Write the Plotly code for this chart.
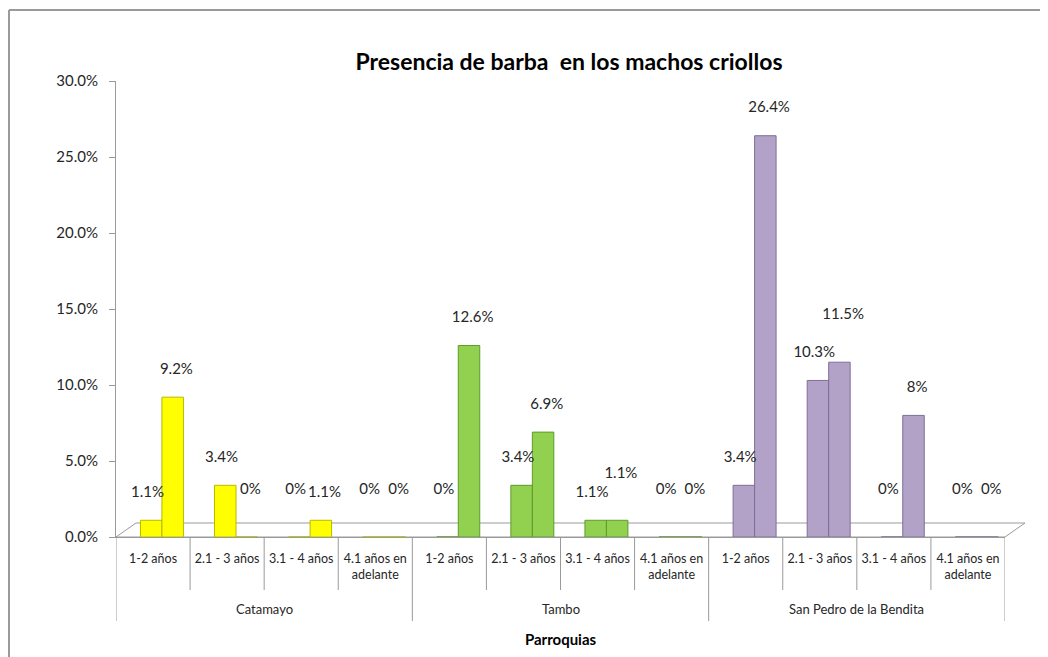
import plotly.graph_objects as go

# ---- data ----
parroquias = ["Catamayo"] * 4 + ["Tambo"] * 4 + ["San Pedro de la Bendita"] * 4
edades = ["1-2 años", "2.1 - 3 años", "3.1 - 4 años", "4.1 años en<br>adelante"] * 3
serie_a = [1.1, 3.4, 0, 0, 0, 3.4, 1.1, 0, 3.4, 10.3, 0, 0]
serie_b = [9.2, 0, 1.1, 0, 12.6, 6.9, 1.1, 0, 26.4, 11.5, 8, 0]
y_ticks = [0, 5, 10, 15, 20, 25, 30]

group_fill = {"Catamayo": "#FFFF00", "Tambo": "#92D050", "San Pedro de la Bendita": "#B3A2C7"}
group_edge = {"Catamayo": "#B8B800", "Tambo": "#5E9A2C", "San Pedro de la Bendita": "#7E6E98"}

fills = [group_fill[p] for p in parroquias]
edges = [group_edge[p] for p in parroquias]
xpos = list(range(len(edades)))

FONT = "Lato, 'Open Sans', sans-serif"
TXT = "#262626"
AX = "#9a9a9a"

BAR_W = 0.29
OFF_A, OFF_B = -0.17, 0.12
SHIFT = 0.05


def lbl(v, extra=0):
    # label raised above the 3D cap (empty lines push the text upward)
    lines = 1 + (1 if v == 0 else 0) + extra
    return f"{v:g}%" + "<br> " * lines


fig = go.Figure()
for vals, off in ((serie_a, OFF_A), (serie_b, OFF_B)):
    fig.add_trace(go.Bar(
        x=xpos, y=vals, width=BAR_W, offset=off,
        marker=dict(color=fills, line=dict(color=edges, width=1)),
        showlegend=False, hoverinfo="y",
    ))

# data labels (right-hand label raised when it would collide with its neighbour)
text_a = [lbl(a) for a in serie_a]
text_b = [lbl(b, 1 if (a > 0 and b > 0 and abs(a - b) < 2) else 0) for a, b in zip(serie_a, serie_b)]
fig.add_trace(go.Scatter(
    x=[i + OFF_A + BAR_W / 2 - SHIFT for i in xpos], y=serie_a, mode="text",
    text=text_a, textposition="top center",
    textfont=dict(family=FONT, size=15, color=TXT), cliponaxis=False, showlegend=False, hoverinfo="skip"))
fig.add_trace(go.Scatter(
    x=[i + OFF_B + BAR_W / 2 + SHIFT for i in xpos], y=serie_b, mode="text",
    text=text_b, textposition="top center",
    textfont=dict(family=FONT, size=15, color=TXT), cliponaxis=False, showlegend=False, hoverinfo="skip"))

# page offset of the plot div (browser body margin)
OFF = 8
W, H = 1040, 649
L, R, T, B = 108, 43, 73, 120
pw, ph = W - L - R, H - T - B


def px(x_page):
    return (x_page - OFF - L) / pw


def py(y_page):
    return (H - B - (y_page - OFF)) / ph


shapes = [
    # chart border (top and left, as cropped in the source)
    dict(type="line", xref="paper", yref="paper", x0=px(9), x1=px(1060), y0=py(10), y1=py(10),
         line=dict(color=AX, width=2)),
    dict(type="line", xref="paper", yref="paper", x0=px(9), x1=px(9), y0=py(10), y1=py(670),
         line=dict(color=AX, width=2)),
    # 3D floor
    dict(type="path", xref="paper", yref="paper", layer="below",
         path=f"M {px(116)},{py(537)} L {px(136)},{py(523)} L {px(1025)},{py(523)} L {px(1005)},{py(537)} Z",
         line=dict(color=AX, width=1), fillcolor="#ffffff"),
]

# category separators (longer at group boundaries)
n = len(edades)
for i in range(n + 1):
    is_group = i == 0 or i == n or parroquias[i] != parroquias[i - 1]
    shapes.append(dict(type="line", xref="x", yref="paper", x0=i - 0.5, x1=i - 0.5,
                       y0=0, y1=py(621 if is_group else 590),
                       line=dict(color=AX, width=1)))

# group labels
annotations = []
groups = []
for i, p in enumerate(parroquias):
    if not groups or groups[-1][0] != p:
        groups.append([p, []])
    groups[-1][1].append(i)
for name, idx in groups:
    annotations.append(dict(text=name, x=sum(idx) / len(idx), xref="x", y=py(609), yref="paper",
                            showarrow=False, xanchor="center", yanchor="middle",
                            font=dict(family=FONT, size=13, color=TXT)))

fig.update_layout(
    width=W, height=H,
    margin=dict(l=L, r=R, t=T, b=B),
    paper_bgcolor="white", plot_bgcolor="white",
    barmode="overlay",
    title=dict(text="<b>Presencia de barba  en los machos criollos</b>",
               x=(569 - OFF) / W, xanchor="center", y=1 - (62 - OFF) / H, yanchor="middle",
               font=dict(family=FONT, size=23, color="#000000")),
    font=dict(family=FONT, size=12, color=TXT),
    shapes=shapes,
    annotations=annotations,
    xaxis=dict(
        range=[-0.5, n - 0.5], tickvals=xpos, ticktext=edades,
        showline=True, linecolor=AX, linewidth=1,
        ticks="", showgrid=False, zeroline=False, ticklabelstandoff=10,
        tickfont=dict(family=FONT, size=12.5, color=TXT),
        title=dict(text="<b>Parroquias</b>", font=dict(family=FONT, size=15, color="#000000"), standoff=53),
    ),
    yaxis=dict(
        range=[0, 30], tickvals=y_ticks, ticktext=[f"{v:.1f}%" for v in y_ticks],
        showline=True, linecolor=AX, linewidth=1,
        ticks="outside", ticklen=6, tickcolor=AX, ticklabelstandoff=8,
        showgrid=False, zeroline=False,
        tickfont=dict(family=FONT, size=15, color=TXT),
    ),
)

fig.write_html("out.html")
